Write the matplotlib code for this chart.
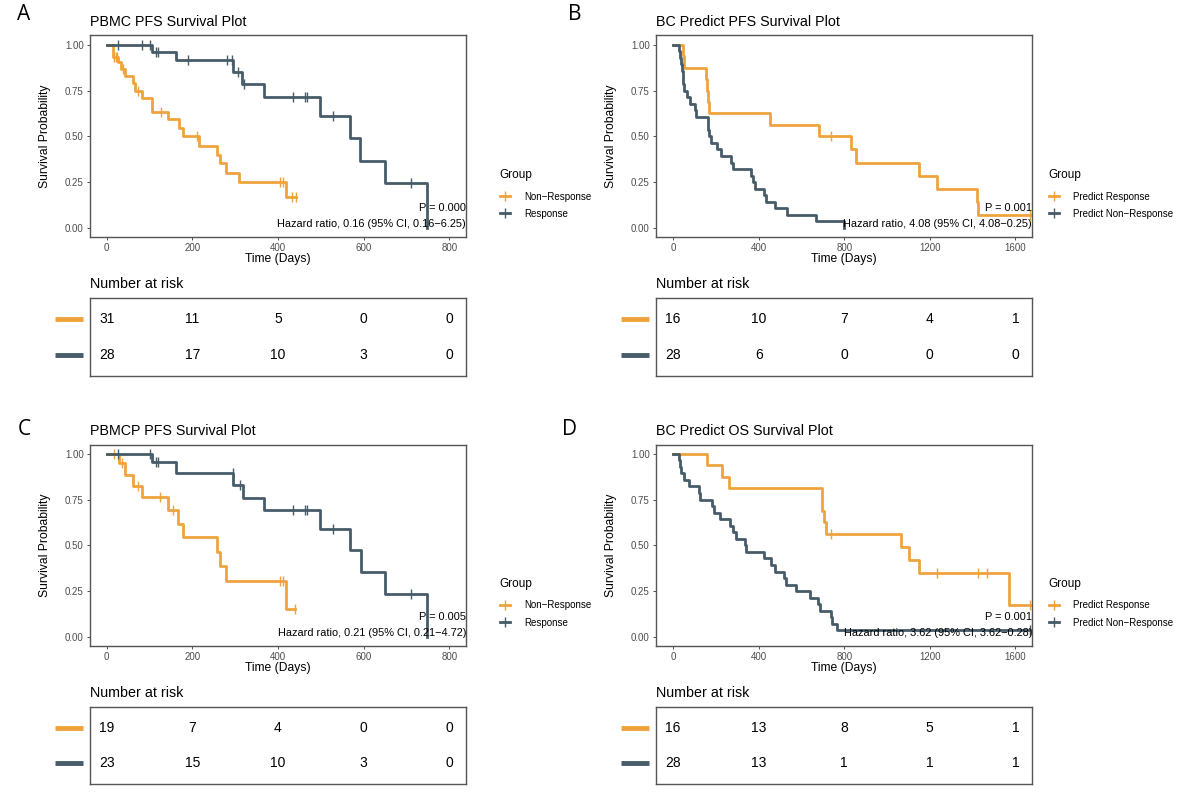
import numpy as np
import matplotlib
matplotlib.use('Agg')
import matplotlib.pyplot as plt
from matplotlib.lines import Line2D
from matplotlib.transforms import blended_transform_factory

plt.rcParams['font.family'] = ['Liberation Sans', 'DejaVu Sans']

ORANGE = '#EFA33C'
SLATE = '#465C69'

# ---- A: PBMC PFS (event times, survival after each event, censor times)
a_nr_t = [14, 27, 33, 43, 62, 66, 82, 105, 142, 169, 177, 216, 258, 265, 278, 310, 419]
a_nr_s = [0.935, 0.903, 0.870, 0.830, 0.790, 0.750, 0.710, 0.633, 0.595, 0.545, 0.500,
          0.450, 0.398, 0.352, 0.302, 0.250, 0.167]
a_nr_c = [18, 22, 25, 37, 74, 127, 210, 405, 411, 432, 443]
a_r_t = [105, 161, 296, 315, 367, 497, 568, 592, 651, 747]
a_r_s = [0.958, 0.915, 0.853, 0.787, 0.715, 0.611, 0.490, 0.367, 0.245, 0.0]
a_r_c = [27, 83, 100, 115, 120, 189, 280, 292, 307, 321, 434, 463, 468, 528, 710]
a_risk_nr = [31, 11, 5, 0, 0]
a_risk_r = [28, 17, 10, 3, 0]

# ---- B: BC Predict PFS
b_pr_t = [44, 50, 153, 159, 163, 166, 452, 681, 834, 855, 1151, 1235, 1419, 1427]
b_pr_s = [0.9375, 0.875, 0.8125, 0.75, 0.6875, 0.625, 0.5625, 0.5, 0.4286, 0.3571,
          0.2857, 0.2143, 0.1429, 0.0714]
b_pr_c = [736, 1668]
b_pn_t = [27, 31, 36, 40, 44, 47, 51, 65, 78, 101, 106, 161, 165, 170, 175, 203, 226,
          273, 278, 366, 374, 385, 426, 432, 476, 533, 667, 798]
b_pn_s = [0.964, 0.929, 0.893, 0.857, 0.821, 0.786, 0.750, 0.714, 0.679, 0.643, 0.607,
          0.571, 0.536, 0.500, 0.464, 0.429, 0.393, 0.357, 0.321, 0.286, 0.250, 0.214,
          0.179, 0.143, 0.107, 0.071, 0.036, 0.0]
b_pn_c = []
b_risk_pr = [16, 10, 7, 4, 1]
b_risk_pn = [28, 6, 0, 0, 0]

# ---- C: PBMCP PFS
c_nr_t = [29, 43, 62, 82, 142, 167, 177, 258, 265, 278, 419]
c_nr_s = [0.947, 0.886, 0.824, 0.764, 0.695, 0.618, 0.545, 0.465, 0.389, 0.307, 0.153]
c_nr_c = [16, 35, 74, 125, 154, 405, 411, 440]
c_r_t = [105, 161, 296, 319, 367, 497, 568, 593, 650, 747]
c_r_s = [0.955, 0.893, 0.829, 0.760, 0.693, 0.591, 0.473, 0.355, 0.236, 0.0]
c_r_c = [27, 101, 115, 120, 294, 311, 434, 463, 468, 528, 710]
c_risk_nr = [19, 7, 4, 0, 0]
c_risk_r = [23, 15, 10, 3, 0]

# ---- D: BC Predict OS
d_pr_t = [159, 229, 260, 694, 698, 706, 714, 1065, 1104, 1151, 1570]
d_pr_s = [0.9375, 0.875, 0.8125, 0.75, 0.6875, 0.625, 0.5625, 0.4922, 0.4219, 0.3516, 0.1758]
d_pr_c = [736, 1232, 1427, 1469, 1668]
d_pn_t = [27, 33, 39, 51, 75, 122, 128, 184, 190, 218, 268, 280, 296, 335, 340, 426, 460,
          476, 518, 530, 574, 639, 678, 689, 736, 744, 764]
d_pn_s = [0.964, 0.929, 0.893, 0.857, 0.821, 0.786, 0.750, 0.714, 0.679, 0.643, 0.607,
          0.571, 0.536, 0.500, 0.464, 0.429, 0.393, 0.357, 0.321, 0.286, 0.250, 0.214,
          0.179, 0.143, 0.107, 0.071, 0.036]
d_pn_c = [1668]
d_risk_pr = [16, 13, 8, 5, 1]
d_risk_pn = [28, 13, 1, 1, 1]

ticks_short = [0, 200, 400, 600, 800]
ticks_long = [0, 400, 800, 1200, 1600]


def surv_at(times, surv, t):
    idx = np.searchsorted(times, t, side='right')
    return np.concatenate([[1.0], surv])[idx]


def km_panel(ax, curves, xlim, xticks, title, p_txt, hr_txt, labels, leg_x, leg_y):
    for (t, s, c), col in zip(curves, [ORANGE, SLATE]):
        end = max(t[-1], max(c) if len(c) else 0)
        x = np.concatenate([[0], t, [end]])
        y = np.concatenate([[1.0], s, [s[-1]]])
        ax.step(x, y, where='post', color=col, lw=2.0)
        if len(c):
            ax.plot(c, surv_at(t, s, c), ls='none', marker='|', ms=6.5, mew=1.0, color=col)
    ax.set_xlim(*xlim)
    ax.set_ylim(-0.05, 1.05)
    ax.set_xticks(xticks)
    ax.set_yticks([0, 0.25, 0.5, 0.75, 1.0])
    ax.set_yticklabels(['0.00', '0.25', '0.50', '0.75', '1.00'])
    ax.tick_params(labelsize=7, labelcolor='#4D4D4D', color='#333333', length=2.5,
                   width=0.6, pad=2)
    for sp in ax.spines.values():
        sp.set_color('#555555')
        sp.set_linewidth(1.0)
    ax.set_xlabel('Time (Days)', fontsize=8.7)
    ax.set_ylabel('Survival Probability', fontsize=8.7)
    ax.xaxis.label.set_va('center')
    ax.yaxis.label.set_va('center')
    ax.xaxis.set_label_coords(0.5, -0.11)
    ax.yaxis.set_label_coords(-0.12, 0.5)
    ax.text(0, 1.068, title, transform=ax.transAxes, fontsize=10.3, va='center', ha='left')
    ax.text(1.0, 0.144, p_txt, transform=ax.transAxes, fontsize=7.9, ha='right', va='center')
    ax.text(1.0, 0.065, hr_txt, transform=ax.transAxes, fontsize=7.9, ha='right', va='center')
    # legend: title as separate text, entries below
    fig.text(leg_x / W, 1 - leg_y / H, 'Group', fontsize=8.5, ha='left', va='center')
    handles = [Line2D([], [], color=col, lw=2.0, marker='+', ms=7, mew=1.0)
               for col in [ORANGE, SLATE]]
    ax.legend(handles, labels, loc='upper left',
              bbox_to_anchor=((leg_x + 1) / W, 1 - (leg_y + 16.5) / H),
              bbox_transform=fig.transFigure, frameon=False, fontsize=7,
              handlelength=1.0, handletextpad=1.5, labelspacing=0.75, borderpad=0,
              borderaxespad=0)


def risk_table(ax, xlim, xticks, rows):
    ax.set_xlim(*xlim)
    ax.set_ylim(0, 1)
    ax.set_xticks([])
    ax.set_yticks([])
    for sp in ax.spines.values():
        sp.set_color('#555555')
        sp.set_linewidth(1.0)
    trans = blended_transform_factory(ax.transAxes, ax.transData)
    for yy, (vals, col) in zip([0.73, 0.27], rows):
        for t, v in zip(xticks, vals):
            ax.text(t, yy, str(v), fontsize=10, ha='center', va='center')
        ax.plot([-0.093, -0.0186], [yy, yy], transform=trans, color=col, lw=3.5,
                solid_capstyle='butt', clip_on=False)
    ax.text(0, 1.18, 'Number at risk', transform=ax.transAxes, fontsize=10.3,
            ha='left', va='center')


fig = plt.figure(figsize=(11.89, 8.02), dpi=100)

W, H = 1189, 802
def box(x0, y0, x1, y1):
    return [x0 / W, 1 - y1 / H, (x1 - x0) / W, (y1 - y0) / H]

ax_a = fig.add_axes(box(90, 35.5, 466, 237.2))
ax_b = fig.add_axes(box(656, 35.5, 1032, 237.2))
ax_c = fig.add_axes(box(90, 444.5, 466, 646.2))
ax_d = fig.add_axes(box(656, 444.5, 1032, 646.2))
rk_a = fig.add_axes(box(90, 298, 466, 376))
rk_b = fig.add_axes(box(656, 298, 1032, 376))
rk_c = fig.add_axes(box(90, 707, 466, 784))
rk_d = fig.add_axes(box(656, 707, 1032, 784))

lim_short = (-39, 839)
lim_long = (-80, 1678)

km_panel(ax_a, [(a_nr_t, a_nr_s, a_nr_c), (a_r_t, a_r_s, a_r_c)], lim_short, ticks_short,
         'PBMC PFS Survival Plot', 'P = 0.000', 'Hazard ratio, 0.16 (95% CI, 0.16\u22126.25)',
         ['Non\u2212Response', 'Response'], 499, 175)
km_panel(ax_b, [(b_pr_t, b_pr_s, b_pr_c), (b_pn_t, b_pn_s, b_pn_c)], lim_long, ticks_long,
         'BC Predict PFS Survival Plot', 'P = 0.001', 'Hazard ratio, 4.08 (95% CI, 4.08\u22120.25)',
         ['Predict Response', 'Predict Non\u2212Response'], 1048, 175)
km_panel(ax_c, [(c_nr_t, c_nr_s, c_nr_c), (c_r_t, c_r_s, c_r_c)], lim_short, ticks_short,
         'PBMCP PFS Survival Plot', 'P = 0.005', 'Hazard ratio, 0.21 (95% CI, 0.21\u22124.72)',
         ['Non\u2212Response', 'Response'], 499, 584)
km_panel(ax_d, [(d_pr_t, d_pr_s, d_pr_c), (d_pn_t, d_pn_s, d_pn_c)], lim_long, ticks_long,
         'BC Predict OS Survival Plot', 'P = 0.001', 'Hazard ratio, 3.62 (95% CI, 3.62\u22120.28)',
         ['Predict Response', 'Predict Non\u2212Response'], 1048, 584)

risk_table(rk_a, lim_short, ticks_short, [(a_risk_nr, ORANGE), (a_risk_r, SLATE)])
risk_table(rk_b, lim_long, ticks_long, [(b_risk_pr, ORANGE), (b_risk_pn, SLATE)])
risk_table(rk_c, lim_short, ticks_short, [(c_risk_nr, ORANGE), (c_risk_r, SLATE)])
risk_table(rk_d, lim_long, ticks_long, [(d_risk_pr, ORANGE), (d_risk_pn, SLATE)])

for letter, (x, y) in zip('ABCD', [(24, 15), (575, 15), (24, 429), (570, 429)]):
    fig.text(x / W, 1 - y / H, letter, fontsize=15, ha='center', va='center',
             family=['Open Sans', 'DejaVu Sans'])

fig.savefig('out.png', dpi=100)
